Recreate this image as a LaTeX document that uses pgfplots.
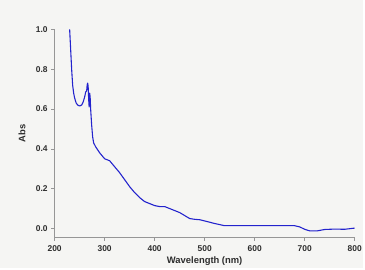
\documentclass[border=0pt]{standalone}
\usepackage{pgfplots}
\pgfplotsset{compat=1.18}
\usepackage{fontspec}
\setmainfont{Liberation Sans}
\definecolor{bg}{RGB}{245,245,243}
\definecolor{axgray}{RGB}{150,150,150}
\definecolor{txt}{RGB}{45,45,45}
\definecolor{line}{RGB}{35,35,205}
\begin{document}
\begin{tikzpicture}
\path[fill=bg] (-55bp,-31bp) rectangle (310bp,239bp);
\begin{axis}[
  at={(0,0)}, anchor=south west,
  scale only axis, width=302bp, height=209.5bp,
  xmin=200, xmax=800, ymin=-0.045, ymax=1.0,
  axis x line*=bottom, axis y line*=left,
  axis line style={axgray, line width=0.5pt},
  xtick={200,300,...,800}, ytick={0,0.2,0.4,0.6,0.8,1.0},
  tick style={axgray, line width=0.5pt},
  tick align=outside, major tick length=3.5bp,
  yticklabel style={/pgf/number format/.cd, fixed, fixed zerofill, precision=1},
  ticklabel style={font=\fontsize{8.5}{9}\selectfont\bfseries, text=txt},
  xticklabel style={yshift=-1.5bp},
  /pgf/number format/assume math mode=true,
  xlabel={Wavelength (nm)}, ylabel={Abs},
  label style={font=\fontsize{9.5}{10}\selectfont\bfseries, text=txt},
  xlabel style={at={(axis description cs:0.5,-0.1146)}, anchor=center},
  ylabel style={at={(axis description cs:-0.109,0.5)}, anchor=center},
  clip=false,
]
\addplot[line, line width=1.1pt, line join=round] coordinates {
(230,1.00)(232,0.90)(234,0.80)(236,0.72)(238,0.68)(240,0.655)(243,0.63)(246,0.62)(250,0.615)(254,0.62)(257,0.635)(260,0.66)(262,0.685)(264,0.69)(265,0.72)(266,0.73)(267,0.715)(268,0.65)(269,0.61)(270,0.68)(271,0.66)(272,0.60)(274,0.52)(276,0.46)(278,0.43)(282,0.41)(290,0.38)(300,0.35)(310,0.34)(320,0.31)(330,0.28)(340,0.245)(350,0.21)(360,0.18)(370,0.155)(380,0.135)(390,0.125)(400,0.115)(410,0.11)(420,0.11)(430,0.10)(440,0.09)(450,0.08)(460,0.065)(470,0.05)(480,0.046)(490,0.044)(500,0.038)(520,0.025)(540,0.014)(600,0.014)(650,0.014)(680,0.014)(690,0.008)(700,-0.004)(710,-0.012)(725,-0.012)(740,-0.005)(760,-0.003)(780,-0.004)(800,0.002)
};
\end{axis}
\end{tikzpicture}
\end{document}
